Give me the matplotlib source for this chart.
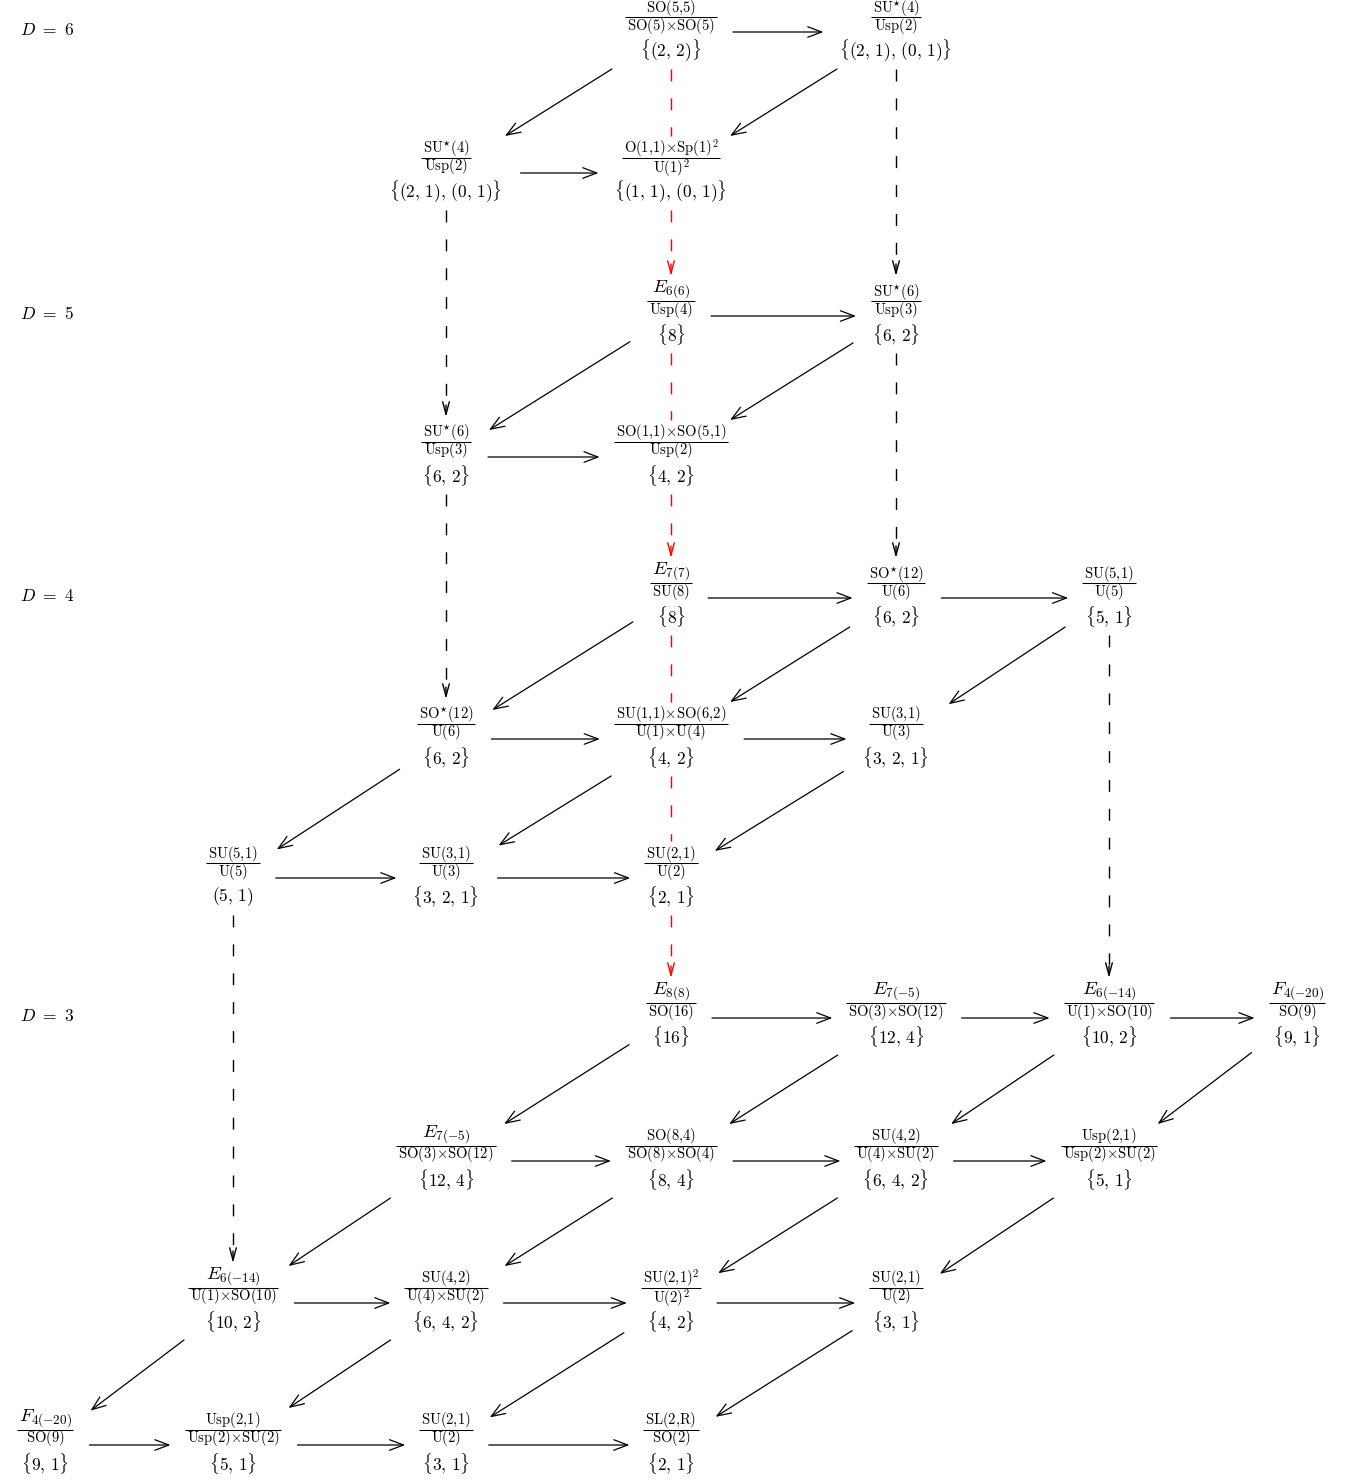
import matplotlib
matplotlib.use('Agg')
import matplotlib.pyplot as plt
from matplotlib.patches import FancyArrowPatch

plt.rcParams['mathtext.fontset'] = 'cm'
plt.rcParams['lines.scale_dashes'] = False

# ---------------- layout grid ----------------
col_x = [45, 233, 446, 671, 896, 1109, 1297]
row_y = [32, 173, 316, 457, 598, 739, 878, 1018, 1161, 1303, 1445]

# ---------------- D labels ----------------
d_rows = [0, 2, 4, 7]
d_labels = [r'$D\ =\ 6$', r'$D\ =\ 5$', r'$D\ =\ 4$', r'$D\ =\ 3$']

X = r'{\times}'
# ---------------- nodes ----------------
node_rows = [0, 0,
             1, 1,
             2, 2,
             3, 3,
             4, 4, 4,
             5, 5, 5,
             6, 6, 6,
             7, 7, 7, 7,
             8, 8, 8, 8,
             9, 9, 9, 9,
             10, 10, 10, 10]
node_cols = [3, 4,
             2, 3,
             3, 4,
             2, 3,
             3, 4, 5,
             2, 3, 4,
             1, 2, 3,
             3, 4, 5, 6,
             2, 3, 4, 5,
             1, 2, 3, 4,
             0, 1, 2, 3]
node_nums = [r'\mathrm{SO}(5{,}5)', r'\mathrm{SU}^{\star}(4)',
             r'\mathrm{SU}^{\star}(4)', r'\mathrm{O}(1{,}1)' + X + r'\mathrm{Sp}(1)^{2}',
             r'E_{6(6)}', r'\mathrm{SU}^{\star}(6)',
             r'\mathrm{SU}^{\star}(6)', r'\mathrm{SO}(1{,}1)' + X + r'\mathrm{SO}(5{,}1)',
             r'E_{7(7)}', r'\mathrm{SO}^{\star}(12)', r'\mathrm{SU}(5{,}1)',
             r'\mathrm{SO}^{\star}(12)', r'\mathrm{SU}(1{,}1)' + X + r'\mathrm{SO}(6{,}2)', r'\mathrm{SU}(3{,}1)',
             r'\mathrm{SU}(5{,}1)', r'\mathrm{SU}(3{,}1)', r'\mathrm{SU}(2{,}1)',
             r'E_{8(8)}', r'E_{7(-5)}', r'E_{6(-14)}', r'F_{4(-20)}',
             r'E_{7(-5)}', r'\mathrm{SO}(8{,}4)', r'\mathrm{SU}(4{,}2)', r'\mathrm{Usp}(2{,}1)',
             r'E_{6(-14)}', r'\mathrm{SU}(4{,}2)', r'\mathrm{SU}(2{,}1)^{2}', r'\mathrm{SU}(2{,}1)',
             r'F_{4(-20)}', r'\mathrm{Usp}(2{,}1)', r'\mathrm{SU}(2{,}1)', r'\mathrm{SL}(2{,}\mathrm{R})']
node_dens = [r'\mathrm{SO}(5)' + X + r'\mathrm{SO}(5)', r'\mathrm{Usp}(2)',
             r'\mathrm{Usp}(2)', r'\mathrm{U}(1)^{2}',
             r'\mathrm{Usp}(4)', r'\mathrm{Usp}(3)',
             r'\mathrm{Usp}(3)', r'\mathrm{Usp}(2)',
             r'\mathrm{SU}(8)', r'\mathrm{U}(6)', r'\mathrm{U}(5)',
             r'\mathrm{U}(6)', r'\mathrm{U}(1)' + X + r'\mathrm{U}(4)', r'\mathrm{U}(3)',
             r'\mathrm{U}(5)', r'\mathrm{U}(3)', r'\mathrm{U}(2)',
             r'\mathrm{SO}(16)', r'\mathrm{SO}(3)' + X + r'\mathrm{SO}(12)', r'\mathrm{U}(1)' + X + r'\mathrm{SO}(10)', r'\mathrm{SO}(9)',
             r'\mathrm{SO}(3)' + X + r'\mathrm{SO}(12)', r'\mathrm{SO}(8)' + X + r'\mathrm{SO}(4)', r'\mathrm{U}(4)' + X + r'\mathrm{SU}(2)', r'\mathrm{Usp}(2)' + X + r'\mathrm{SU}(2)',
             r'\mathrm{U}(1)' + X + r'\mathrm{SO}(10)', r'\mathrm{U}(4)' + X + r'\mathrm{SU}(2)', r'\mathrm{U}(2)^{2}', r'\mathrm{U}(2)',
             r'\mathrm{SO}(9)', r'\mathrm{Usp}(2)' + X + r'\mathrm{SU}(2)', r'\mathrm{U}(2)', r'\mathrm{SO}(2)']
node_sets = [r'\{(2,\,2)\}', r'\{(2,\,1),\,(0,\,1)\}',
             r'\{(2,\,1),\,(0,\,1)\}', r'\{(1,\,1),\,(0,\,1)\}',
             r'\{8\}', r'\{6,\,2\}',
             r'\{6,\,2\}', r'\{4,\,2\}',
             r'\{8\}', r'\{6,\,2\}', r'\{5,\,1\}',
             r'\{6,\,2\}', r'\{4,\,2\}', r'\{3,\,2,\,1\}',
             r'(5,\,1)', r'\{3,\,2,\,1\}', r'\{2,\,1\}',
             r'\{16\}', r'\{12,\,4\}', r'\{10,\,2\}', r'\{9,\,1\}',
             r'\{12,\,4\}', r'\{8,\,4\}', r'\{6,\,4,\,2\}', r'\{5,\,1\}',
             r'\{10,\,2\}', r'\{6,\,4,\,2\}', r'\{4,\,2\}', r'\{3,\,1\}',
             r'\{9,\,1\}', r'\{5,\,1\}', r'\{3,\,1\}', r'\{2,\,1\}']

# ---------------- arrows (row, col) -> (row, col) ----------------
horiz_arrows = [((0, 3), (0, 4)), ((1, 2), (1, 3)), ((2, 3), (2, 4)), ((3, 2), (3, 3)),
                ((4, 3), (4, 4)), ((4, 4), (4, 5)),
                ((5, 2), (5, 3)), ((5, 3), (5, 4)),
                ((6, 1), (6, 2)), ((6, 2), (6, 3)),
                ((7, 3), (7, 4)), ((7, 4), (7, 5)), ((7, 5), (7, 6)),
                ((8, 2), (8, 3)), ((8, 3), (8, 4)), ((8, 4), (8, 5)),
                ((9, 1), (9, 2)), ((9, 2), (9, 3)), ((9, 3), (9, 4)),
                ((10, 0), (10, 1)), ((10, 1), (10, 2)), ((10, 2), (10, 3))]
diag_arrows = [((0, 3), (1, 2)), ((0, 4), (1, 3)),
               ((2, 3), (3, 2)), ((2, 4), (3, 3)),
               ((4, 3), (5, 2)), ((4, 4), (5, 3)), ((4, 5), (5, 4)),
               ((5, 2), (6, 1)), ((5, 3), (6, 2)), ((5, 4), (6, 3)),
               ((7, 3), (8, 2)), ((7, 4), (8, 3)), ((7, 5), (8, 4)), ((7, 6), (8, 5)),
               ((8, 2), (9, 1)), ((8, 3), (9, 2)), ((8, 4), (9, 3)), ((8, 5), (9, 4)),
               ((9, 1), (10, 0)), ((9, 2), (10, 1)), ((9, 3), (10, 2)), ((9, 4), (10, 3))]
dashed_arrows = [((0, 3), (2, 3), 'red'), ((0, 4), (2, 4), 'black'),
                 ((1, 2), (3, 2), 'black'),
                 ((2, 3), (4, 3), 'red'), ((2, 4), (4, 4), 'black'),
                 ((3, 2), (5, 2), 'black'),
                 ((4, 3), (7, 3), 'red'), ((4, 5), (7, 5), 'black'),
                 ((6, 1), (9, 1), 'black')]

# ---------------- figure ----------------
W, H = 1364, 1481
fig = plt.figure(figsize=(W / 100, H / 100), dpi=100)
ax = fig.add_axes([0, 0, 1, 1])
ax.set_xlim(0, W)
ax.set_ylim(H, 0)
ax.axis('off')

FS_SET = 12.5
FS_FR = 10.5
FS_EXC = 13.5
for r, lab in zip(d_rows, d_labels):
    ax.text(20, row_y[r] - 2, lab, fontsize=12.5, ha='left', va='center')

node_texts = {}
for r, c, n, d, s in zip(node_rows, node_cols, node_nums, node_dens, node_sets):
    x, y = col_x[c], row_y[r]
    if n[0] in 'EF':
        tn = ax.text(x, y - 24.5, '$' + n + '$', fontsize=FS_EXC, ha='center', va='baseline')
    else:
        tn = ax.text(x, y - 20.5, '$' + n + '$', fontsize=FS_FR, ha='center', va='baseline')
    dy_den = -0.5 if '^' in d else -2.5
    td = ax.text(x, y + dy_den, '$' + d + '$', fontsize=FS_FR, ha='center', va='baseline')
    ts = ax.text(x, y + 18.5, '$' + s + '$', fontsize=FS_SET, ha='center', va='center')
    node_texts[(r, c)] = (tn, td, ts)

fig.canvas.draw()
renderer = fig.canvas.get_renderer()
PAD = 19
HH = 37
half_w = {}
for key, (tn, td, ts) in node_texts.items():
    wn = tn.get_window_extent(renderer).width
    wd = td.get_window_extent(renderer).width
    ws = ts.get_window_extent(renderer).width
    x, y = col_x[key[1]], row_y[key[0]]
    bw = max(wn, wd) / 2 + 2
    ax.plot([x - bw, x + bw], [y - 15, y - 15], color='black', lw=0.75, solid_capstyle='butt')
    half_w[key] = max(wn, wd, ws) / 2 + PAD


def center(key):
    r, c = key
    return col_x[c], row_y[r]


def solid_arrow(p0, p1, color='black'):
    ax.add_patch(FancyArrowPatch(p0, p1, arrowstyle='->,head_length=0.5,head_width=0.19',
                                 mutation_scale=20, lw=0.9, color=color,
                                 shrinkA=0, shrinkB=0))


for a, b in horiz_arrows:
    (xa, ya), (xb, yb) = center(a), center(b)
    solid_arrow((xa + half_w[a] - 1, ya), (xb - half_w[b] + 3, yb))

for a, b in diag_arrows:
    (xa, ya), (xb, yb) = center(a), center(b)
    dx, dy = xb - xa, yb - ya
    L = (dx ** 2 + dy ** 2) ** 0.5
    ux, uy = dx / L, dy / L
    ta = min(half_w[a] / abs(ux), HH / abs(uy))
    tb = min(half_w[b] / abs(ux), HH / abs(uy))
    solid_arrow((xa + ta * ux, ya + ta * uy), (xb - tb * ux, yb - tb * uy))

for a, b, color in dashed_arrows:
    (x, ya), (_, yb) = center(a), center(b)
    y0 = ya + HH
    tip = yb - HH - 3
    segs = []
    cur = y0
    for r in range(a[0] + 1, b[0]):
        if (r, a[1]) in node_texts:
            segs.append((cur, row_y[r] - HH))
            cur = row_y[r] + HH
    segs.append((cur, tip - 8))
    for s0, s1 in segs:
        ax.plot([x, x], [s0, s1], color=color, lw=1.0, linestyle=(0, (8.6, 12.2)),
                solid_capstyle='butt', dash_capstyle='butt')
    ax.add_patch(FancyArrowPatch((x, tip - 12), (x, tip),
                                 arrowstyle='->,head_length=0.45,head_width=0.12',
                                 mutation_scale=20, lw=1.0, color=color,
                                 shrinkA=0, shrinkB=0))

fig.savefig('out.png', dpi=100, facecolor='white')
